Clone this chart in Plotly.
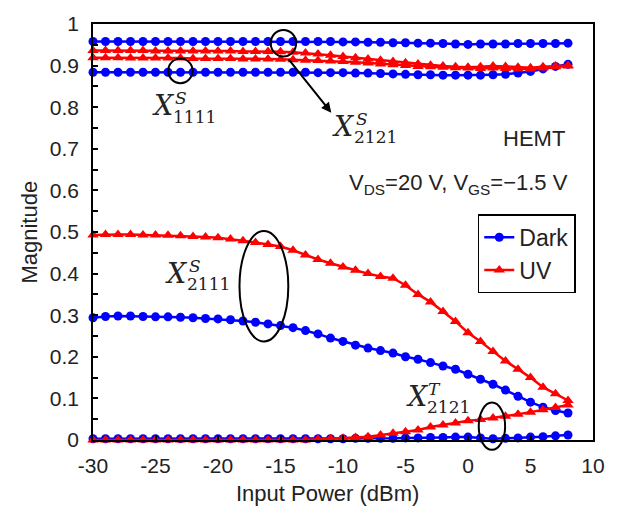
import plotly.graph_objects as go

# ---------------- data ----------------
input_power = [-30, -29, -28, -27, -26, -25, -24, -23, -22, -21, -20, -19, -18,
               -17, -16, -15, -14, -13, -12, -11, -10, -9, -8, -7, -6, -5, -4,
               -3, -2, -1, 0, 1, 2, 3, 4, 5, 6, 7, 8]

dark_x2121s = [0.958, 0.958, 0.958, 0.958, 0.958, 0.958, 0.958, 0.958, 0.958, 0.958,
               0.958, 0.958, 0.958, 0.958, 0.958, 0.958, 0.958, 0.958, 0.958, 0.958,
               0.957, 0.957, 0.956, 0.956, 0.955, 0.955, 0.954, 0.954, 0.953, 0.952,
               0.951, 0.952, 0.952, 0.952, 0.953, 0.953, 0.953, 0.953, 0.954]
dark_x1111s = [0.884, 0.884, 0.884, 0.884, 0.884, 0.884, 0.884, 0.884, 0.884, 0.884,
               0.884, 0.884, 0.884, 0.884, 0.884, 0.884, 0.884, 0.884, 0.883, 0.883,
               0.883, 0.882, 0.882, 0.881, 0.880, 0.879, 0.878, 0.878, 0.877, 0.877,
               0.877, 0.877, 0.878, 0.879, 0.882, 0.886, 0.892, 0.898, 0.903]
dark_x2111s = [0.294, 0.297, 0.298, 0.298, 0.297, 0.296, 0.296, 0.295, 0.294, 0.292,
               0.291, 0.289, 0.286, 0.283, 0.279, 0.275, 0.270, 0.263, 0.255, 0.245,
               0.237, 0.228, 0.221, 0.215, 0.209, 0.200, 0.194, 0.186, 0.178, 0.170,
               0.158, 0.146, 0.134, 0.120, 0.105, 0.091, 0.079, 0.071, 0.065]
dark_x2121t = [0.003, 0.003, 0.003, 0.003, 0.003, 0.003, 0.003, 0.003, 0.003, 0.003,
               0.003, 0.003, 0.003, 0.003, 0.003, 0.003, 0.003, 0.003, 0.003, 0.003,
               0.003, 0.004, 0.004, 0.004, 0.004, 0.005, 0.005, 0.006, 0.006, 0.007,
               0.007, 0.005, 0.003, 0.004, 0.005, 0.007, 0.008, 0.010, 0.012]

uv_x2121s = [0.936, 0.936, 0.936, 0.936, 0.936, 0.935, 0.935, 0.935, 0.935, 0.935,
             0.935, 0.935, 0.934, 0.934, 0.934, 0.933, 0.932, 0.930, 0.928, 0.925,
             0.922, 0.919, 0.916, 0.913, 0.910, 0.907, 0.904, 0.901, 0.899, 0.897,
             0.896, 0.897, 0.899, 0.898, 0.896, 0.895, 0.897, 0.899, 0.900]
uv_x1111s = [0.919, 0.919, 0.919, 0.918, 0.918, 0.918, 0.918, 0.918, 0.917, 0.917,
             0.917, 0.917, 0.916, 0.916, 0.916, 0.915, 0.914, 0.913, 0.912, 0.911,
             0.910, 0.908, 0.906, 0.904, 0.902, 0.900, 0.898, 0.897, 0.896, 0.895,
             0.894, 0.893, 0.894, 0.893, 0.892, 0.892, 0.894, 0.897, 0.899]
uv_x2111s = [0.493, 0.494, 0.494, 0.494, 0.493, 0.493, 0.492, 0.491, 0.489, 0.488,
             0.486, 0.483, 0.479, 0.475, 0.470, 0.465, 0.456, 0.445, 0.434, 0.425,
             0.416, 0.408, 0.400, 0.393, 0.389, 0.372, 0.350, 0.332, 0.309, 0.285,
             0.258, 0.237, 0.213, 0.190, 0.170, 0.150, 0.127, 0.111, 0.095]
uv_x2121t = [0.000, 0.000, 0.000, 0.000, 0.000, 0.000, 0.000, 0.000, 0.000, 0.000,
             0.000, 0.000, 0.000, 0.000, 0.000, 0.000, 0.000, 0.000, 0.002, 0.003,
             0.004, 0.006, 0.008, 0.012, 0.016, 0.020, 0.024, 0.031, 0.036, 0.041,
             0.046, 0.049, 0.053, 0.057, 0.062, 0.067, 0.073, 0.078, 0.084]

x_ticks = [-30, -25, -20, -15, -10, -5, 0, 5, 10]
x_tick_labels = ["-30", "-25", "-20", "-15", "-10", "-5", "0", "5", "10"]
y_ticks = [0, 0.1, 0.2, 0.3, 0.4, 0.5, 0.6, 0.7, 0.8, 0.9, 1]
y_tick_labels = ["0", "0.1", "0.2", "0.3", "0.4", "0.5", "0.6", "0.7", "0.8", "0.9", "1"]

# ---------------- style ----------------
BLUE = "#0000FF"
RED = "#FF0000"
TXT = "#222222"
SANS = "Liberation Sans, Arial, sans-serif"
SERIF = "DejaVu Serif, serif"

fig = go.Figure()

dark_series = [dark_x2121s, dark_x1111s, dark_x2111s, dark_x2121t]
uv_series = [uv_x2121s, uv_x1111s, uv_x2111s, uv_x2121t]

for i, ys in enumerate(dark_series):
    fig.add_trace(go.Scatter(
        x=input_power, y=ys, mode="lines+markers", name="Dark",
        legendgroup="Dark", showlegend=(i == 0), cliponaxis=False,
        line=dict(color=BLUE, width=2.5),
        marker=dict(symbol="circle", size=9, color=BLUE)))
for i, ys in enumerate(uv_series):
    fig.add_trace(go.Scatter(
        x=input_power, y=ys, mode="lines+markers", name="UV",
        legendgroup="UV", showlegend=(i == 0), cliponaxis=False,
        line=dict(color=RED, width=2.5),
        marker=dict(symbol="triangle-up", size=10, color=RED)))

# plot area in pixels: left 93, right 605, top 18, bottom 440
L, R, T, B = 93, 605, 18, 440
def px(xp):
    return (xp - L) / (R - L)
def py(yp):
    return (B - yp) / (B - T)

annotations = []

def math_label(xc, yc, sup, sub):
    annotations.append(dict(xref="paper", yref="paper", x=px(xc), y=py(yc),
                            text="<i>X</i>", showarrow=False,
                            font=dict(family=SERIF, size=27, color=TXT),
                            xanchor="center", yanchor="middle"))
    annotations.append(dict(xref="paper", yref="paper", x=px(xc + 18), y=py(yc - 8),
                            text="<i>" + sup + "</i>", showarrow=False,
                            font=dict(family=SERIF, size=17, color=TXT),
                            xanchor="center", yanchor="middle"))
    annotations.append(dict(xref="paper", yref="paper", x=px(xc + 8), y=py(yc + 11),
                            text=sub, showarrow=False,
                            font=dict(family=SERIF, size=17, color=TXT),
                            xanchor="left", yanchor="middle"))

math_label(165, 101, "S", "1111")
math_label(350, 122, "S", "2121")
math_label(179, 271, "S", "2111")
math_label(425, 396, "T", "2121")

annotations += [
    dict(xref="paper", yref="paper", x=px(545), y=py(134), text="HEMT",
         showarrow=False, font=dict(family=SANS, size=22, color=TXT),
         xanchor="center", yanchor="middle"),
    dict(xref="paper", yref="paper", x=px(467), y=py(180),
         text="V<sub>DS</sub>=20 V, V<sub>GS</sub>=\u22121.5 V",
         showarrow=False, font=dict(family=SANS, size=22, color=TXT),
         xanchor="center", yanchor="middle"),
    dict(xref="paper", yref="paper", x=px(333), y=py(494), text="Input Power (dBm)",
         showarrow=False, font=dict(family=SANS, size=22, color=TXT),
         xanchor="center", yanchor="middle"),
    dict(xref="paper", yref="paper", x=px(27), y=py(229), text="Magnitude",
         textangle=-90, showarrow=False,
         font=dict(family=SANS, size=22, color=TXT),
         xanchor="center", yanchor="middle"),
    dict(xref="paper", yref="paper", x=px(337), y=py(108),
         axref="pixel", ayref="pixel", ax=-44, ay=-55, text="",
         showarrow=True, arrowhead=2, arrowsize=1, arrowwidth=2,
         arrowcolor="black"),
]

def ellipse(x0, x1, y0, y1):
    return dict(type="circle", xref="paper", yref="paper",
                x0=px(x0), x1=px(x1), y0=py(y1), y1=py(y0),
                line=dict(color="black", width=2), layer="above")

shapes = [
    ellipse(170, 195, 53, 78),
    ellipse(275, 301, 24, 51),
    ellipse(243, 293, 228, 340),
    ellipse(488, 515, 402, 450),
]

fig.update_layout(
    width=617, height=510,
    margin=dict(l=L, r=617 - R, t=T, b=510 - B, pad=0),
    paper_bgcolor="white", plot_bgcolor="white",
    font=dict(family=SANS, size=21, color=TXT),
    annotations=annotations, shapes=shapes,
    legend=dict(x=px(487), y=py(211), xanchor="left", yanchor="top",
                bgcolor="white", bordercolor="black", borderwidth=1.5,
                font=dict(family=SANS, size=23, color=TXT),
                tracegroupgap=0),
    xaxis=dict(range=[-30, 10], tickvals=x_ticks, ticktext=x_tick_labels,
               ticks="inside", ticklen=5, ticklabelstandoff=6,
               tickcolor="black", tickwidth=1.5, showline=True, linecolor="black",
               linewidth=1.5, mirror=True, showgrid=False, zeroline=False,
               tickfont=dict(family=SANS, size=21, color=TXT)),
    yaxis=dict(range=[0, 1], tickvals=y_ticks, ticktext=y_tick_labels,
               ticks="inside", ticklen=5, ticklabelstandoff=8,
               tickcolor="black", tickwidth=1.5, showline=True, linecolor="black",
               linewidth=1.5, mirror=True, showgrid=False, zeroline=False,
               minor=dict(dtick=0.05, ticks="inside", ticklen=5,
                          tickcolor="black", tickwidth=1.5),
               tickfont=dict(family=SANS, size=21, color=TXT)),
)

fig.write_html("out.html")
